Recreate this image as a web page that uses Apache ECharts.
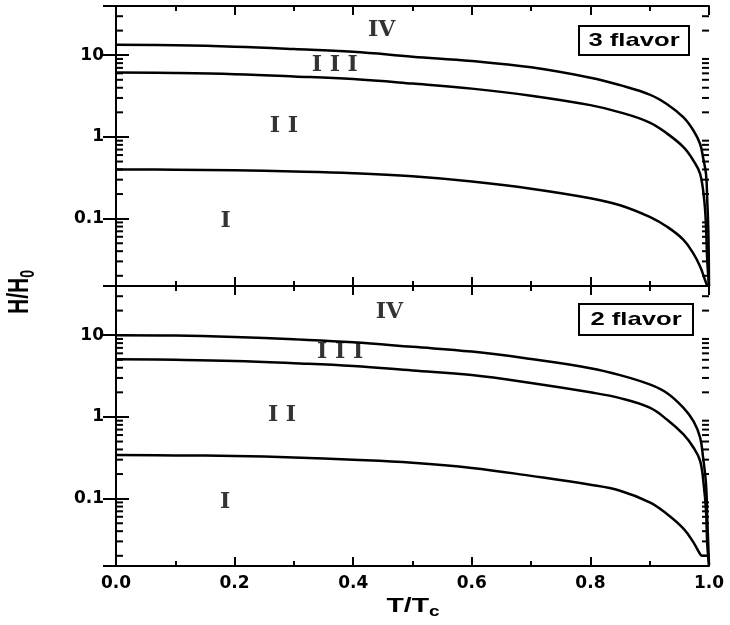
<!DOCTYPE html>
<html>
<head>
<meta charset="utf-8">
<script src="https://cdn.jsdelivr.net/npm/echarts@6/dist/echarts.min.js"></script>
<style>html,body{margin:0;padding:0;background:#fff;}#c{width:730px;height:625px;}</style>
</head>
<body>
<div id="c"></div>
<script>
// ---- data (T/Tc, H/H0) ----
const f3_upper = [[0,13.4],[0.1,13.2],[0.2,12.7],[0.3,11.9],[0.4,11.0],[0.5,9.6],[0.6,8.5],[0.7,7.1],[0.8,5.3],[0.85,4.3],[0.9,3.3],[0.93,2.5],[0.957,1.73],[0.974,1.19],[0.985,0.82],[0.99,0.56],[0.995,0.35],[0.997,0.17],[0.999,0.066],[1.0,0.015]];
const f3_middle = [[0,6.15],[0.1,6.05],[0.2,5.85],[0.3,5.5],[0.4,5.1],[0.5,4.5],[0.6,3.9],[0.7,3.2],[0.8,2.45],[0.85,2.0],[0.9,1.5],[0.93,1.09],[0.957,0.75],[0.974,0.51],[0.985,0.354],[0.992,0.167],[0.995,0.079],[0.997,0.031],[1.0,0.015]];
const f3_lower = [[0,0.40],[0.1,0.398],[0.2,0.39],[0.3,0.378],[0.4,0.36],[0.5,0.33],[0.6,0.285],[0.7,0.233],[0.8,0.178],[0.85,0.146],[0.9,0.105],[0.93,0.079],[0.957,0.055],[0.974,0.037],[0.985,0.026],[0.993,0.018],[0.997,0.015]];

const f2_upper = [[0,10.0],[0.1,9.9],[0.2,9.5],[0.3,8.9],[0.4,8.2],[0.5,7.2],[0.6,6.3],[0.7,5.1],[0.8,3.95],[0.85,3.25],[0.9,2.5],[0.929,1.96],[0.957,1.29],[0.974,0.88],[0.985,0.56],[0.99,0.32],[0.995,0.15],[0.997,0.06],[1.0,0.0155]];
const f2_middle = [[0,5.07],[0.1,5.0],[0.2,4.85],[0.3,4.55],[0.4,4.2],[0.5,3.7],[0.6,3.25],[0.7,2.6],[0.8,2.0],[0.85,1.7],[0.9,1.3],[0.929,0.93],[0.957,0.61],[0.974,0.42],[0.985,0.29],[0.991,0.15],[0.995,0.071],[0.997,0.028],[1.0,0.0155]];
const f2_lower = [[0,0.341],[0.1,0.338],[0.2,0.333],[0.3,0.32],[0.4,0.30],[0.5,0.275],[0.6,0.238],[0.7,0.19],[0.8,0.148],[0.85,0.125],[0.9,0.09],[0.929,0.065],[0.957,0.043],[0.974,0.029],[0.985,0.021],[0.988,0.020],[1.0,0.020]];

const regionNames = ['I', 'I I', 'I I I', 'IV'];
const regionPos3 = [[0.185,0.093],[0.283,1.34],[0.369,7.6],[0.448,20.4]];
const regionPos2 = [[0.184,0.091],[0.28,1.04],[0.378,6.1],[0.461,19.2]];

const panelTitles = ['3 flavor', '2 flavor'];
const minorTickValues = [0.02,0.03,0.04,0.05,0.06,0.07,0.08,0.09,0.2,0.3,0.4,0.5,0.6,0.7,0.8,0.9,2,3,4,5,6,7,8,9,20,30];
const yMin = 0.015, yMax = 40;

// ---- chart ----
const chart = echarts.init(document.getElementById('c'), null, {renderer: 'canvas'});
const FONT = 'DejaVu Sans';
const axisLine = {show: true, lineStyle: {color: '#000', width: 2}};

function xAxisDef(gi, pos, labels) {
  return {
    type: 'value', gridIndex: gi, position: pos, min: 0, max: 1, interval: 0.2,
    axisLine: axisLine,
    axisTick: {show: true, inside: true, length: 9, lineStyle: {color: '#000', width: 2}},
    minorTick: {show: true, splitNumber: 2, length: 5, lineStyle: {color: '#000', width: 2}},
    splitLine: {show: false},
    axisLabel: {show: labels, color: '#000', fontFamily: FONT, fontWeight: 'bold', fontSize: 17, margin: 9,
      formatter: v => v.toFixed(1)}
  };
}
function yAxisDef(gi, pos, labels) {
  return {
    type: 'log', logBase: 10, gridIndex: gi, position: pos, min: yMin, max: yMax,
    axisLine: axisLine,
    axisTick: {show: true, inside: true, length: 13, lineStyle: {color: '#000', width: 2}},
    minorTick: {show: false},
    splitLine: {show: false},
    axisLabel: {show: labels, color: '#000', fontFamily: FONT, fontWeight: 'bold', fontSize: 17, margin: 12,
      showMinLabel: false, showMaxLabel: false,
      formatter: v => String(+(+v).toPrecision(3))}
  };
}

function lineSeries(data, gi) {
  return {type: 'line', xAxisIndex: gi * 2, yAxisIndex: gi * 2, data: data, showSymbol: false, symbol: 'none',
    smooth: 0.4, lineStyle: {color: '#000', width: 2.5}, silent: true, z: 3};
}
function regionSeries(pos, gi) {
  return {type: 'scatter', xAxisIndex: gi * 2, yAxisIndex: gi * 2, symbolSize: 0, silent: true,
    data: pos.map((p, i) => [p[0], p[1], regionNames[i]]),
    label: {show: true, position: 'inside', formatter: p => p.value[2], color: '#000',
      fontFamily: 'DejaVu Serif', fontWeight: 'bold', fontSize: 22}};
}
function minorTickSeries(gi) {
  return {type: 'custom', xAxisIndex: gi * 2, yAxisIndex: gi * 2, silent: true, z: 4,
    data: minorTickValues.map(v => [0, v]),
    renderItem: function (params, api) {
      const v = api.value(1);
      const a = api.coord([0, v]);
      const b = api.coord([1, v]);
      const st = {stroke: '#000', lineWidth: 2};
      return {type: 'group', children: [
        {type: 'line', shape: {x1: a[0], y1: a[1], x2: a[0] + 7, y2: a[1]}, style: st},
        {type: 'line', shape: {x1: b[0], y1: b[1], x2: b[0] - 7, y2: b[1]}, style: st}
      ]};
    }};
}

const GL = 116, GW = 593, GT = 6, GH = 280;

const option = {
  backgroundColor: '#fff',
  animation: false,
  grid: [
    {left: GL, top: GT, width: GW, height: GH},
    {left: GL, top: GT + GH, width: GW, height: GH}
  ],
  xAxis: [xAxisDef(0, 'bottom', false), xAxisDef(0, 'top', false), xAxisDef(1, 'bottom', true), xAxisDef(1, 'top', false)],
  yAxis: [yAxisDef(0, 'left', true), yAxisDef(0, 'right', false), yAxisDef(1, 'left', true), yAxisDef(1, 'right', false)],
  series: [
    lineSeries(f3_upper, 0), lineSeries(f3_middle, 0), lineSeries(f3_lower, 0),
    lineSeries(f2_upper, 1), lineSeries(f2_middle, 1), lineSeries(f2_lower, 1),
    regionSeries(regionPos3, 0), regionSeries(regionPos2, 1),
    minorTickSeries(0), minorTickSeries(1)
  ],
  graphic: [
    {type: 'group', left: 578, top: 25, children: [
      {type: 'rect', shape: {x: 0, y: 0, width: 110, height: 29}, style: {fill: '#fff', stroke: '#000', lineWidth: 2}},
      {type: 'text', x: 55, y: 15, scaleX: 1.35, style: {text: panelTitles[0], fill: '#000', font: 'bold 19px "Liberation Sans"', align: 'center', verticalAlign: 'middle'}}
    ]},
    {type: 'group', left: 578, top: 303, children: [
      {type: 'rect', shape: {x: 0, y: 0, width: 114, height: 31}, style: {fill: '#fff', stroke: '#000', lineWidth: 2}},
      {type: 'text', x: 57, y: 16, scaleX: 1.35, style: {text: panelTitles[1], fill: '#000', font: 'bold 19px "Liberation Sans"', align: 'center', verticalAlign: 'middle'}}
    ]},
    {type: 'text', x: 413, y: 606, scaleX: 1.35, style: {
      text: '{a|T/T}{b|c}', fill: '#000', align: 'center', verticalAlign: 'middle',
      rich: {a: {fontFamily: 'Liberation Sans', fontWeight: 'bold', fontSize: 21, fill: '#000'},
             b: {fontFamily: 'Liberation Sans', fontWeight: 'bold', fontSize: 14, fill: '#000', padding: [12, 0, 0, 0]}}}},
    {type: 'text', x: 20, y: 292, rotation: Math.PI / 2, scaleY: 1.4, style: {
      text: '{a|H/H}{b|0}', fill: '#000', align: 'center', verticalAlign: 'middle',
      rich: {a: {fontFamily: 'Liberation Sans', fontWeight: 'bold', fontSize: 21, fill: '#000'},
             b: {fontFamily: 'Liberation Sans', fontWeight: 'bold', fontSize: 14, fill: '#000', padding: [12, 0, 0, 0]}}}}
  ]
};
chart.setOption(option);
</script>
</body>
</html>
